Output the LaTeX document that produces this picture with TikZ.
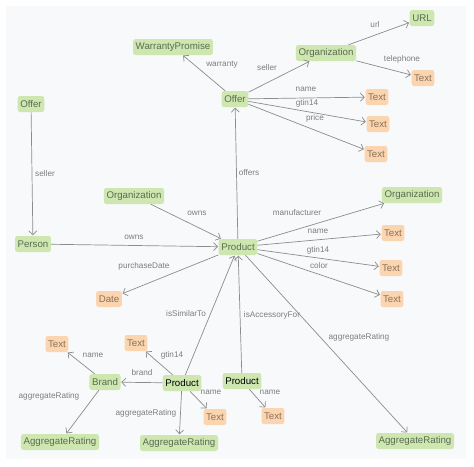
\documentclass[tikz,border=0pt]{standalone}
\usepackage{fontspec}
\setmainfont{Liberation Sans}
\usetikzlibrary{arrows.meta}
\definecolor{gfill}{RGB}{206,230,176}
\definecolor{gtext}{RGB}{92,108,82}
\definecolor{ofill}{RGB}{250,213,176}
\definecolor{otext}{RGB}{140,112,88}
\definecolor{edgec}{RGB}{140,140,140}
\definecolor{lblc}{RGB}{125,125,125}
\definecolor{panel}{RGB}{248,249,251}
\tikzset{
  base/.style={rounded corners=2.5pt, inner xsep=2.6pt, inner ysep=0pt, minimum height=16pt, font=\fontsize{9.7}{10}\selectfont},
  gnode/.style={base, fill=gfill, text=gtext},
  gbold/.style={base, fill=gfill, text=black},
  onode/.style={base, fill=ofill, text=otext},
  lbl/.style={font=\fontsize{8.2}{9}\selectfont, text=lblc, inner sep=0pt},
  edge/.style={draw=edgec, line width=0.7pt, -{Straight Barb[length=4pt,width=8pt,line width=0.7pt]}, shorten >=0.5pt}
}
\begin{document}
\begin{tikzpicture}[x=1pt,y=-1pt]
\useasboundingbox (0,0) rectangle (474,466);
\fill[panel] (6,6) rectangle (466,459);
% nodes
\node[gnode] (url) at (422,18) {URL};
\node[gnode] (orgT) at (326,53) {Organization};
\node[onode] (telT) at (423,78) {Text};
\node[gnode] (warr) at (173,47) {WarrantyPromise};
\node[gnode] (offer) at (235,99) {Offer};
\node[onode] (oname) at (377,97) {Text};
\node[onode] (ogtin) at (378,124) {Text};
\node[onode] (oprice) at (376,154) {Text};
\node[gnode] (offerL) at (31,104) {Offer};
\node[gnode] (person) at (33,244) {Person};
\node[gnode] (orgM) at (134,196) {Organization};
\node[gnode] (prod) at (238,247) {Product};
\node[gnode] (orgR) at (412,195) {Organization};
\node[onode] (pname) at (393,233) {Text};
\node[onode] (pgtin) at (391,268) {Text};
\node[onode] (pcolor) at (392,299) {Text};
\node[gnode] (aggR) at (415,441) {AggregateRating};
\node[onode] (date) at (109,299) {Date};
\node[gbold] (prodBL) at (182,383) {Product};
\node[gbold] (prodBR) at (242,381) {Product};
\node[onode] (brname) at (273,416) {Text};
\node[onode] (blname) at (215,417) {Text};
\node[onode] (blgtin) at (136,343) {Text};
\node[gnode] (aggM) at (179,443) {AggregateRating};
\node[gnode] (brand) at (105,382) {Brand};
\node[onode] (bname) at (57,344) {Text};
\node[gnode] (aggL) at (60,442) {AggregateRating};
% edges
\draw[edge] (orgT) -- (url);
\draw[edge] (orgT) -- (telT);
\draw[edge] (offer) -- (orgT);
\draw[edge] (offer) -- (warr);
\draw[edge] (offer) -- (oname);
\draw[edge] (offer) -- (ogtin);
\draw[edge] (offer) -- (oprice);
\draw[edge] (prod) -- (offer);
\draw[edge] (offerL) -- (person);
\draw[edge] (orgM) -- (prod);
\draw[edge] (person) -- (prod);
\draw[edge] (prod) -- (orgR);
\draw[edge] (prod) -- (pname);
\draw[edge] (prod) -- (pgtin);
\draw[edge] (prod) -- (pcolor);
\draw[edge] (prod) -- (aggR);
\draw[edge] (prod) -- (date);
\draw[edge] (prodBL) -- (prod);
\draw[edge] (prodBR) -- (prod);
\draw[edge] (prodBL) -- (brand);
\draw[edge] (prodBL) -- (blgtin);
\draw[edge] (prodBL) -- (blname);
\draw[edge] (prodBL) -- (aggM);
\draw[edge] (brand) -- (bname);
\draw[edge] (brand) -- (aggL);
\draw[edge] (prodBR) -- (brname);
% labels
\node[lbl] (l1) at (375,25) {url};
\node[lbl] (l2) at (402,59) {telephone};
\node[lbl] (l3) at (267,68) {seller};
\node[lbl] (l4) at (222,65) {warranty};
\node[lbl] (l5) at (306,89) {name};
\node[lbl] (l6) at (307,103) {gtin14};
\node[lbl] (l7) at (315,118) {price};
\node[lbl] (l8) at (249,173) {offers};
\node[lbl] (l9) at (45,174) {seller};
\node[lbl] (l10) at (197,213) {owns};
\node[lbl] (l11) at (134,237) {owns};
\node[lbl] (l12) at (297,213) {manufacturer};
\node[lbl] (l13) at (318,231) {name};
\node[lbl] (l14) at (318,250) {gtin14};
\node[lbl] (l15) at (319,266) {color};
\node[lbl] (l16) at (144,266) {purchaseDate};
\node[lbl] (l17) at (359,337) {aggregateRating};
\node[lbl] (l18) at (272,315) {isAccessoryFor};
\node[lbl] (l19) at (186,314) {isSimilarTo};
\node[lbl] (l20) at (172,355) {gtin14};
\node[lbl] (l21) at (142,373) {brand};
\node[lbl] (l22) at (93,355) {name};
\node[lbl] (l23) at (211,392) {name};
\node[lbl] (l24) at (270,392) {name};
\node[lbl] (l25) at (146,413) {aggregateRating};
\node[lbl] (l26) at (49,396) {aggregateRating};
\end{tikzpicture}
\end{document}
